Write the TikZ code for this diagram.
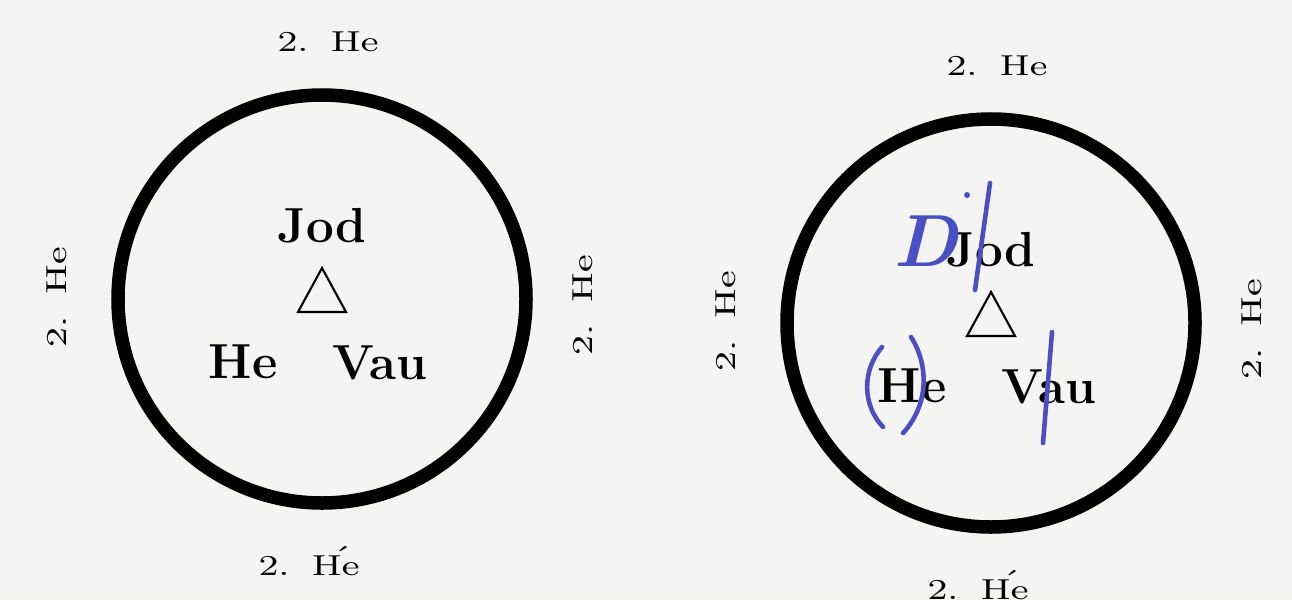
\documentclass[tikz,border=0pt]{standalone}
\usepackage{graphicx}
\usepackage{tikz}
\usetikzlibrary{positioning}
\definecolor{paper}{HTML}{F4F4F3}
\definecolor{inkblue}{HTML}{4A50C4}
\newcommand{\twoHe}{\scalebox{1.3}[1]{2.\hspace{0.6em}He}}
\newcommand{\twoHeacc}{\scalebox{1.3}[1]{2.\hspace{0.6em}H\makebox[0pt]{\raisebox{0.3em}{´}}e}}
\tikzset{
  ring/.style={draw=black, line width=0.135cm},
  lettername/.style={font=\fontsize{14}{17}\selectfont\bfseries, inner sep=0pt},
  sidelabel/.style={font=\fontsize{8.2}{10}\selectfont, inner sep=0pt},
  inkline/.style={draw=inkblue, line width=1.3pt, line cap=round}
}
\begin{document}
\begin{tikzpicture}[x=0.01cm, y=-0.01cm]
  \fill[paper] (0,0) rectangle (1292,600);
  \useasboundingbox (0,0) rectangle (1292,600);
  \foreach \cx/\cy/\s in {322/299/L,991/323/R} {
    \draw[ring] (\cx,\cy) circle[radius=204];
    \node[lettername] (jod\s) at (\cx,\cy-73) {Jod};
    \draw[line width=0.6pt, line join=miter] (\cx,\cy-31) -- (\cx+24,\cy+13) -- (\cx-24,\cy+13) -- cycle;
    \node[lettername] (he\s) at (\cx-79,\cy+63) {He};
    \node[lettername] (vau\s) at (\cx+58,\cy+64) {Vau};
    \node[sidelabel] (top\s) at (\cx+6,\cy-257) {\twoHe};
    \node[sidelabel] (bottom\s) at (\cx-13,\cy+262) {\twoHeacc};
    \node[sidelabel, rotate=90] (left\s) at (\cx-265,\cy-2) {\twoHe};
    \node[sidelabel, rotate=90] (right\s) at (\cx+261,\cy+6) {\twoHe};
  }
  % pen marks on the right copy
  \node[font=\fontsize{21}{24}\selectfont\bfseries\itshape, text=inkblue, inner sep=0pt] (penD) at (926,241) {D};
  \fill[inkblue] (967,195) circle[radius=3];
  \draw[inkline] (990,183) -- (975,290);
  \draw[inkline] (882,347) .. controls (862,370) and (862,405) .. (883,427);
  \draw[inkline] (911,337) .. controls (929,365) and (929,405) .. (903,433);
  \draw[inkline] (1052,332) -- (1043,443);
\end{tikzpicture}
\end{document}
